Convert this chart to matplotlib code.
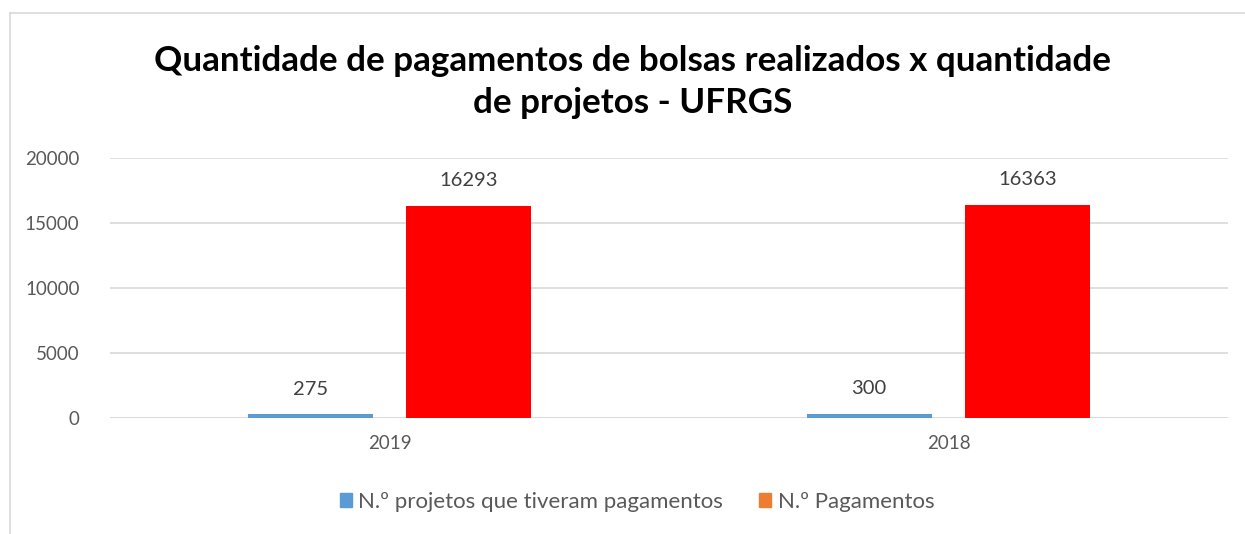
import matplotlib
matplotlib.use("Agg")
import matplotlib.pyplot as plt
import matplotlib.patches as mpatches
import numpy as np

plt.rcParams["font.family"] = ["Lato", "DejaVu Sans"]

years = ["2019", "2018"]
projetos = [275, 300]
pagamentos = [16293, 16363]
yticks = [0, 5000, 10000, 15000, 20000]

BLUE = "#5b9bd5"
RED = "#ff0000"
ORANGE = "#ed7d31"
TXT = "#595959"
GRID = "#d9d9d9"

fig = plt.figure(figsize=(12.45, 5.34), dpi=100)
fig.patch.set_facecolor("white")
# outer chart border (only top and left visible in reference)
fig.add_artist(plt.Line2D([10 / 1245, 10 / 1245], [0, 1 - 13 / 534], color=GRID, lw=1.2))
fig.add_artist(plt.Line2D([10 / 1245, 1], [1 - 13 / 534, 1 - 13 / 534], color=GRID, lw=1.2))

ax = fig.add_axes([110 / 1245, 1 - 418 / 534, 1118 / 1245, 260 / 534])
x = np.arange(len(years))
w = 0.224
off = 0.142
b1 = ax.bar(x - off, projetos, w, color=BLUE, zorder=3)
b2 = ax.bar(x + off, pagamentos, w, color=RED, zorder=3)

for bars, vals in ((b1, projetos), (b2, pagamentos)):
    for r, v in zip(bars, vals):
        ax.text(r.get_x() + r.get_width() / 2, v + 1300, str(v),
                ha="center", va="bottom", fontsize=14.5, color="#404040")

ax.set_xlim(-0.5, 1.5)
ax.set_ylim(0, 20000)
ax.set_yticks(yticks)
ax.set_xticks(x)
ax.set_xticklabels(years)
ax.tick_params(axis="both", length=0, labelsize=13.5, colors=TXT)
ax.tick_params(axis="y", pad=22)
ax.tick_params(axis="x", pad=12)
ax.yaxis.grid(True, color=GRID, lw=1.2, zorder=0)
for s in ax.spines.values():
    s.set_visible(False)
ax.axhline(0, color=GRID, lw=1.2, zorder=2)

fig.text(633 / 1245, 1 - 82 / 534,
         "Quantidade de pagamentos de bolsas realizados x quantidade\nde projetos - UFRGS",
         ha="center", va="center", fontsize=25.2, fontweight="bold",
         linespacing=1.38, color="black")

handles = [mpatches.Patch(color=BLUE, label="N.º projetos que tiveram pagamentos"),
           mpatches.Patch(color=ORANGE, label="N.º Pagamentos")]
leg = fig.legend(handles=handles, loc="center", bbox_to_anchor=(637 / 1245, 1 - 502 / 534),
                 ncol=2, frameon=False, fontsize=16, handlelength=0.55, handleheight=0.55,
                 handletextpad=0.3, columnspacing=1.6)
for t in leg.get_texts():
    t.set_color(TXT)

fig.savefig("out.png", dpi=100, facecolor="white")
